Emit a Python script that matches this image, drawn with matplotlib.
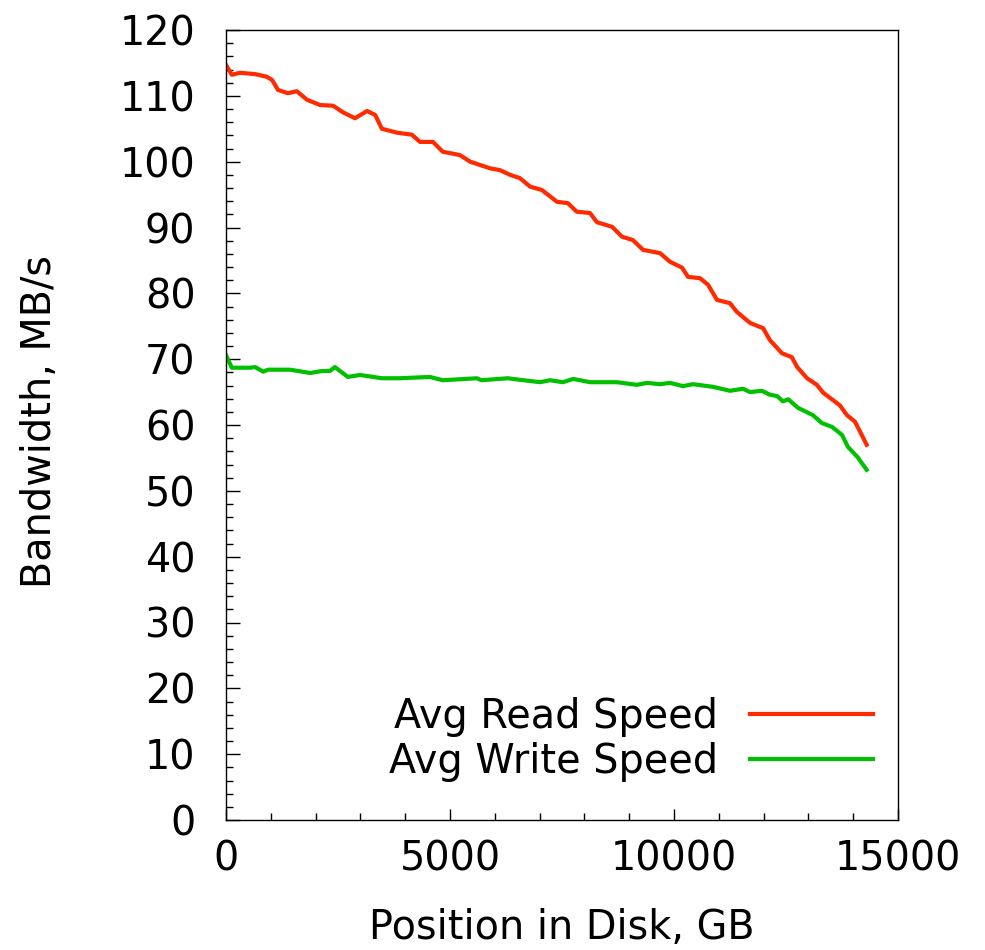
import numpy as np
import matplotlib.pyplot as plt
from matplotlib.ticker import MultipleLocator

# Disk position (GB) and average read speed (MB/s)
read_pos = [0, 130, 310, 650, 910, 1030, 1160, 1380, 1580, 1810, 2100, 2390, 2610,
            2880, 3150, 3330, 3480, 3820, 4150, 4330, 4620, 4840, 5000, 5220, 5450,
            5890, 6120, 6340, 6560, 6790, 7050, 7390, 7630, 7830, 8125, 8280, 8620,
            8840, 9080, 9310, 9690, 9910, 10180, 10313, 10580, 10760, 10960, 11250,
            11400, 11700, 11990, 12140, 12410, 12630, 12750, 12970, 13190, 13330,
            13700, 13860, 14040, 14190, 14300]
read_speed = [114.7, 113.2, 113.5, 113.3, 112.9, 112.4, 110.9, 110.4, 110.7, 109.4,
              108.6, 108.5, 107.5, 106.6, 107.7, 107.1, 105.0, 104.4, 104.1, 103.0,
              103.0, 101.5, 101.3, 101.0, 100.0, 99.0, 98.7, 98.0, 97.5, 96.2, 95.7,
              93.9, 93.7, 92.4, 92.2, 90.8, 90.1, 88.6, 88.1, 86.6, 86.1, 84.8, 83.9,
              82.5, 82.3, 81.3, 79.0, 78.5, 77.2, 75.5, 74.7, 72.9, 70.9, 70.3, 68.8,
              67.1, 66.1, 64.9, 63.0, 61.5, 60.5, 58.5, 57.0]

# Disk position (GB) and average write speed (MB/s)
write_pos = [0, 130, 540, 650, 830, 940, 1430, 1880, 2140, 2320, 2430, 2720, 2990,
             3480, 3880, 4550, 4840, 5600, 5700, 6290, 6400, 7010, 7230, 7520, 7750,
             8125, 8730, 9170, 9400, 9690, 9910, 10200, 10420, 10870, 11250, 11540,
             11700, 11960, 12140, 12300, 12430, 12550, 12770, 13100, 13300, 13530,
             13750, 13880, 14100, 14300]
write_speed = [70.6, 68.7, 68.7, 68.8, 68.1, 68.4, 68.4, 67.9, 68.2, 68.2, 68.8, 67.3,
               67.6, 67.1, 67.1, 67.3, 66.8, 67.1, 66.8, 67.1, 67.0, 66.5, 66.8, 66.5,
               67.0, 66.5, 66.5, 66.1, 66.4, 66.2, 66.4, 65.9, 66.2, 65.8, 65.2, 65.5,
               65.0, 65.2, 64.6, 64.4, 63.6, 63.9, 62.6, 61.5, 60.3, 59.7, 58.5, 56.7,
               55.1, 53.2]

fs = 28.6
fig = plt.figure(figsize=(9.85, 9.5), dpi=100)
ax = fig.add_axes([226/985, 130/950, 672/985, 790/950])

ax.plot(read_pos, read_speed, color='#ff2a00', lw=3, label='Avg Read Speed')
ax.plot(write_pos, write_speed, color='#00c000', lw=3, label='Avg Write Speed')

ax.set_xlim(0, 15000)
ax.set_ylim(0, 120)
ax.xaxis.set_major_locator(MultipleLocator(5000))
ax.xaxis.set_minor_locator(MultipleLocator(1000))
ax.yaxis.set_major_locator(MultipleLocator(10))
ax.yaxis.set_minor_locator(MultipleLocator(2))
ax.tick_params(which='both', direction='in', top=False, right=False, width=1, labelsize=fs)
ax.tick_params(axis='y', which='major', length=10, pad=22)
ax.tick_params(axis='y', which='minor', length=5)
ax.tick_params(axis='x', which='major', length=8, pad=14)
ax.tick_params(axis='x', which='minor', length=5)
for s in ax.spines.values():
    s.set_linewidth(1)

fig.text(40/985, (950-422)/950, 'Bandwidth, MB/s', rotation=90, ha='center', va='center', fontsize=fs)
fig.text(562/985, 11/950, 'Position in Disk, GB', ha='center', va='baseline', fontsize=fs)

ax.legend(loc='lower right', bbox_to_anchor=((873-226)/672, 38/790), frameon=False,
          markerfirst=False, fontsize=fs, handlelength=3.1, handletextpad=0.8,
          labelspacing=0.12, borderaxespad=0, borderpad=0)

fig.savefig('out.png', dpi=100)
